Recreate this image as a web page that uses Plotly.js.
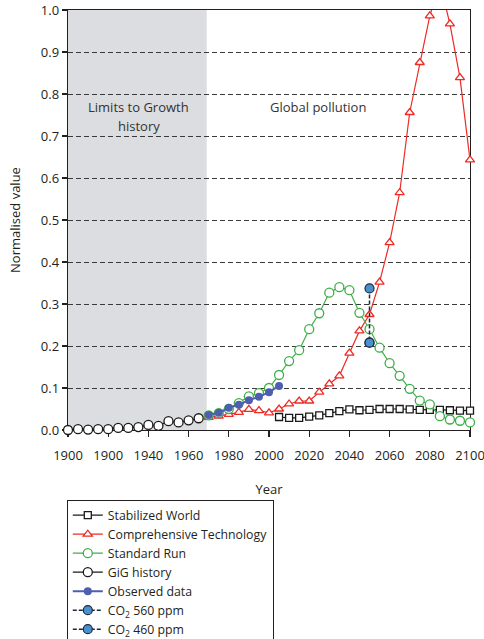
<!DOCTYPE html>
<html><head><meta charset="utf-8">
<script src="https://cdn.plot.ly/plotly-3.0.1.min.js"></script>
<style>html,body{margin:0;padding:0;background:#fff}#chart{width:484px;height:639px}</style>
</head><body><div id="chart"></div>
<script>
// ---- data ----
const gigYears = [1900,1905,1910,1915,1920,1925,1930,1935,1940,1945,1950,1955,1960,1965];
const gigHistory = [0.0,0.002,0.001,0.002,0.002,0.005,0.005,0.007,0.012,0.010,0.021,0.018,0.023,0.028];

const obsYears = [1970,1975,1980,1985,1990,1995,2000,2005];
const observed = [0.036,0.041,0.053,0.060,0.071,0.079,0.090,0.105];

const ctYears = [1970,1975,1980,1985,1990,1995,2000,2005,2010,2015,2020,2025,2030,2035,2040,2045,2050,2055,2060,2065,2070,2075,2080,2085,2090,2095,2100];
const comprehensiveTech = [0.030,0.033,0.037,0.042,0.049,0.046,0.041,0.050,0.062,0.069,0.069,0.090,0.110,0.129,0.183,0.236,0.275,0.352,0.446,0.565,0.756,0.875,0.986,1.065,0.967,0.839,0.643];

const srYears = [1970,1975,1980,1985,1990,1995,2000,2005,2010,2015,2020,2025,2030,2035,2040,2045,2050,2055,2060,2065,2070,2075,2080,2085,2090,2095,2100];
const standardRun = [0.035,0.040,0.050,0.064,0.080,0.088,0.100,0.131,0.164,0.190,0.240,0.278,0.327,0.340,0.333,0.279,0.240,0.196,0.159,0.129,0.098,0.070,0.061,0.033,0.025,0.022,0.018];

const swYears = [2005,2010,2015,2020,2025,2030,2035,2040,2045,2050,2055,2060,2065,2070,2075,2080,2085,2090,2095,2100];
const stabilizedWorld = [0.031,0.029,0.029,0.032,0.035,0.040,0.045,0.049,0.047,0.048,0.050,0.050,0.050,0.049,0.048,0.048,0.048,0.047,0.046,0.046];

const co2Year = [2050];
const co2_560 = [0.337];
const co2_460 = [0.208];

const xTickVals = [1900,1920,1940,1960,1980,2000,2020,2040,2060,2080,2100];
const xTickText = ['1900','1900','1940','1960','1980','2000','2020','2040','2060','2080','2100'];

const historyEnd = 1969;

// ---- traces ----
const FONT = '"Open Sans", "Noto Sans", sans-serif';
const traces = [
  {name:'Stabilized World', x:swYears, y:stabilizedWorld, mode:'lines+markers', cliponaxis:false,
   line:{color:'#1a1a1a', width:1.2},
   marker:{symbol:'square', size:7, color:'#ffffff', line:{color:'#1a1a1a', width:1.3}}},
  {name:'Comprehensive Technology', x:ctYears, y:comprehensiveTech, mode:'lines+markers', cliponaxis:false,
   line:{color:'#ee2a24', width:1.2},
   marker:{symbol:'triangle-up', size:8, color:'#ffffff', line:{color:'#ee2a24', width:1.3}}},
  {name:'Standard Run', x:srYears, y:standardRun, mode:'lines+markers', cliponaxis:false,
   line:{color:'#3fae49', width:1.2},
   marker:{symbol:'circle', size:9, color:'#ffffff', line:{color:'#3fae49', width:1.3}}},
  {name:'GiG history', x:gigYears, y:gigHistory, mode:'lines+markers', cliponaxis:false,
   line:{color:'#1a1a1a', width:1.2},
   marker:{symbol:'circle', size:9, color:'#ffffff', line:{color:'#1a1a1a', width:1.3}}},
  {name:'Observed data', x:obsYears, y:observed, mode:'lines+markers', cliponaxis:false,
   line:{color:'#4f5fb0', width:2},
   marker:{symbol:'circle', size:8, color:'#4f5fb0', line:{color:'#4f5fb0', width:0}}},
  {name:'CO<sub>2</sub> 560 ppm', x:co2Year.concat(co2Year), y:co2_560.concat(co2_460), mode:'lines+markers', cliponaxis:false,
   line:{color:'#1a2a3a', width:1.5, dash:'4px,2px'},
   marker:{symbol:'circle', size:9, color:'#4a90cf', line:{color:'#1a2a3a', width:1.2}}},
  {name:'CO<sub>2</sub> 460 ppm', x:co2Year, y:co2_460, mode:'lines+markers', cliponaxis:false,
   line:{color:'#1a2a3a', width:1.5, dash:'4px,2px'},
   marker:{symbol:'circle', size:9, color:'#4a90cf', line:{color:'#1a2a3a', width:1.2}}}
];

const layout = {
  width:484, height:639,
  margin:{l:68, r:14, t:10, b:209, autoexpand:false},
  paper_bgcolor:'#ffffff', plot_bgcolor:'#ffffff',
  font:{family:FONT, size:13, color:'#231f20'},
  showlegend:true,
  xaxis:{range:[1900,2100], tickvals:xTickVals, ticktext:xTickText,
    ticks:'outside', ticklen:6, tickcolor:'#231f20', tickwidth:1.2,
    ticklabelstandoff:7, ticklabeloverflow:'allow',
    showline:true, linecolor:'#231f20', linewidth:1.3, mirror:true,
    showgrid:false, zeroline:false, layer:'below traces', automargin:false,
    tickfont:{size:13}, title:{text:'Year', font:{size:13}, standoff:22}},
  yaxis:{range:[0,1], dtick:0.1, tick0:0, tickformat:'.1f',
    ticks:'outside', ticklen:5, tickcolor:'#231f20', tickwidth:1.2,
    showline:true, linecolor:'#231f20', linewidth:1.3, mirror:true,
    showgrid:true, gridcolor:'#3a3a3a', gridwidth:1, griddash:'5px,3px',
    zeroline:false, layer:'below traces', automargin:false,
    tickfont:{size:13}, title:{text:'Normalised value', font:{size:13}, standoff:17}},
  shapes:[{type:'rect', xref:'x', yref:'y', x0:1900, x1:historyEnd, y0:0, y1:1,
    fillcolor:'#dcdde0', line:{width:0}, layer:'below'}],
  annotations:[
    {text:'Limits to Growth', x:1935.2, y:0.770, xref:'x', yref:'y', showarrow:false, font:{size:13, color:'#333333'}},
    {text:'history', x:1935.2, y:0.724, xref:'x', yref:'y', showarrow:false, font:{size:13, color:'#333333'}},
    {text:'Global pollution', x:2024.4, y:0.769, xref:'x', yref:'y', showarrow:false, font:{size:13, color:'#333333'}}
  ],
  legend:{x:-0.003, y:-0.166, xanchor:'left', yanchor:'top', bgcolor:'#ffffff',
    bordercolor:'#231f20', borderwidth:1, font:{size:12.3, color:'#231f20'},
    itemwidth:30, tracegroupgap:0, traceorder:'normal'}
};

Plotly.newPlot('chart', traces, layout, {displayModeBar:false, staticPlot:true});
</script>
</body></html>
